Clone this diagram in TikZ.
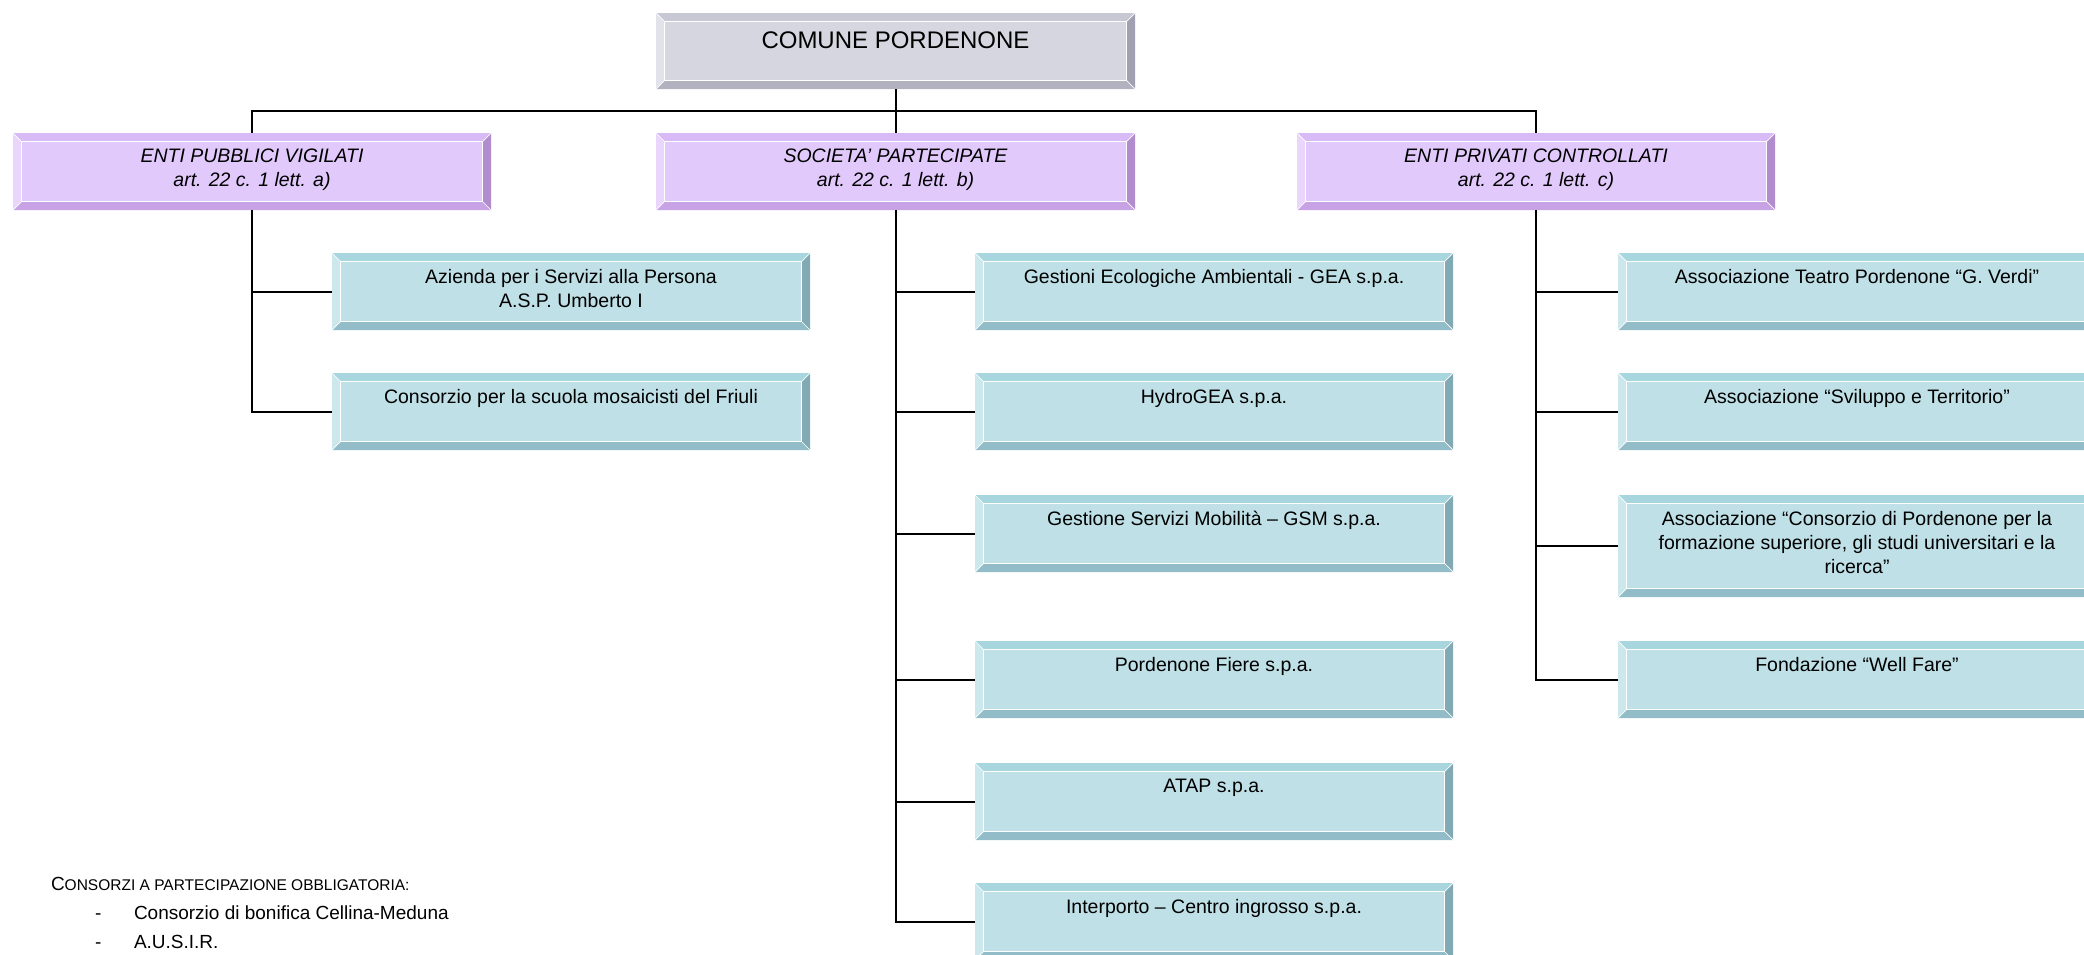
\documentclass[tikz,border=0pt]{standalone}
\usepackage{fontspec}
\setmainfont{Liberation Sans}
\usetikzlibrary{calc}
\definecolor{gF}{RGB}{214,214,224}
\definecolor{gT}{RGB}{200,200,213}
\definecolor{gL}{RGB}{226,226,234}
\definecolor{gB}{RGB}{177,177,192}
\definecolor{gR}{RGB}{160,160,176}
\definecolor{pF}{RGB}{226,201,251}
\definecolor{pT}{RGB}{215,186,246}
\definecolor{pL}{RGB}{234,214,253}
\definecolor{pB}{RGB}{199,162,228}
\definecolor{pR}{RGB}{178,141,206}
\definecolor{bF}{RGB}{190,224,230}
\definecolor{bT}{RGB}{168,214,222}
\definecolor{bL}{RGB}{204,232,237}
\definecolor{bB}{RGB}{146,188,199}
\definecolor{bR}{RGB}{129,170,180}
\newcommand\fs{\fontsize{19.5pt}{24pt}\selectfont}
\def\bv{8.5}
\newcommand\bvl[2]{%
  \fill[#2T] (#1.north west) -- (#1.north east) -- ([shift={(-\bv,\bv)}]#1.north east) -- ([shift={(\bv,\bv)}]#1.north west) -- cycle;
  \fill[#2B] (#1.south west) -- (#1.south east) -- ([shift={(-\bv,-\bv)}]#1.south east) -- ([shift={(\bv,-\bv)}]#1.south west) -- cycle;
  \fill[#2L] (#1.north west) -- (#1.south west) -- ([shift={(\bv,-\bv)}]#1.south west) -- ([shift={(\bv,\bv)}]#1.north west) -- cycle;
  \fill[#2R] (#1.north east) -- (#1.south east) -- ([shift={(-\bv,-\bv)}]#1.south east) -- ([shift={(-\bv,\bv)}]#1.north east) -- cycle;
  \draw[white, line width=0.9pt] ([shift={(\bv,\bv)}]#1.north west) rectangle ([shift={(-\bv,-\bv)}]#1.south east);
  \draw[white, line width=0.7pt] (#1.north west) -- ([shift={(\bv,\bv)}]#1.north west)
     (#1.south west) -- ([shift={(\bv,-\bv)}]#1.south west)
     (#1.north east) -- ([shift={(-\bv,\bv)}]#1.north east)
     (#1.south east) -- ([shift={(-\bv,-\bv)}]#1.south east);
}
\newcommand\bbox[8]{%
  \node[box, fill=#6F, minimum width=#4pt, minimum height=#5pt] (#1) at (#2,#3) {};
  \bvl{#1}{#6}
  \node[txt, #8] (#1t) at ([yshift=-16pt]#1.north) {#7};
}
\tikzset{
  box/.style={inner sep=0pt, outer sep=0pt, anchor=north west, draw=none},
  txt/.style={inner sep=0pt, outer sep=0pt, align=center, anchor=north, font=\fs},
  conn/.style={draw=black, line width=2pt},
  note/.style={inner sep=0pt, outer sep=0pt, anchor=base west, font=\fontsize{19pt}{23pt}\selectfont},
}
\begin{document}
\begin{tikzpicture}[x=1pt, y=-1pt]
\useasboundingbox (0,0) rectangle (2084,954);
\clip (0,0) rectangle (2084,954);
\fill[white] (0,0) rectangle (2084,954);
\coordinate (hbar) at (0,111);
% boxes
\bbox{top}{656}{13}{479}{76}{g}{COMUNE PORDENONE}{font=\fontsize{24pt}{28pt}\selectfont, yshift=-3pt}
\bbox{ea}{13}{133}{478}{77}{p}{ENTI PUBBLICI VIGILATI\\art. 22 c. 1 lett. a)}{font=\fs\itshape}
\bbox{eb}{656}{133}{479}{77}{p}{SOCIETA’ PARTECIPATE\\art. 22 c. 1 lett. b)}{font=\fs\itshape}
\bbox{ec}{1297}{133}{478}{77}{p}{ENTI PRIVATI CONTROLLATI\\art. 22 c. 1 lett. c)}{font=\fs\itshape}
% left children
\bbox{a1}{332}{253}{478}{77}{b}{Azienda per i Servizi alla Persona\\A.S.P. Umberto I}{}
\bbox{a2}{332}{373}{478}{77}{b}{Consorzio per la scuola mosaicisti del Friuli}{}
% middle children
\bbox{b1}{975}{253}{478}{77}{b}{Gestioni Ecologiche Ambientali - GEA s.p.a.}{}
\bbox{b2}{975}{373}{478}{77}{b}{HydroGEA s.p.a.}{}
\bbox{b3}{975}{495}{478}{77}{b}{Gestione Servizi Mobilità – GSM s.p.a.}{}
\bbox{b4}{975}{641}{478}{77}{b}{Pordenone Fiere s.p.a.}{}
\bbox{b5}{975}{763}{478}{77}{b}{ATAP s.p.a.}{}
\bbox{b6}{975}{883}{478}{77}{b}{Interporto – Centro ingrosso s.p.a.}{}
% right children
\bbox{c1}{1618}{253}{478}{77}{b}{Associazione Teatro Pordenone “G. Verdi”}{}
\bbox{c2}{1618}{373}{478}{77}{b}{Associazione “Sviluppo e Territorio”}{}
\bbox{c3}{1618}{495}{478}{102}{b}{Associazione “Consorzio di Pordenone per la\\formazione superiore, gli studi universitari e la\\ricerca”}{}
\bbox{c4}{1618}{641}{478}{77}{b}{Fondazione “Well Fare”}{}
% connectors
\draw[conn] (top.south) -- (eb.north);
\draw[conn] (ea.north) -- (ea.north |- hbar) -- (ec.north |- hbar) -- (ec.north);
\foreach \c in {a1,a2} \draw[conn] (ea.south) |- (\c.west);
\foreach \c in {b1,b2,b3,b4,b5,b6} \draw[conn] (eb.south) |- (\c.west);
\foreach \c in {c1,c2,c3,c4} \draw[conn] (ec.south) |- (\c.west);
% note
\node[note] (hdr) at (51,890) {C{\fontsize{15.5pt}{20pt}\selectfont ONSORZI A PARTECIPAZIONE OBBLIGATORIA:}};
\node[note] (d1) at (95,919) {-};
\node[note] (t1) at (134,919) {Consorzio di bonifica Cellina-Meduna};
\node[note] (d2) at (95,948) {-};
\node[note] (t2) at (134,948) {A.U.S.I.R.};
\end{tikzpicture}
\end{document}
